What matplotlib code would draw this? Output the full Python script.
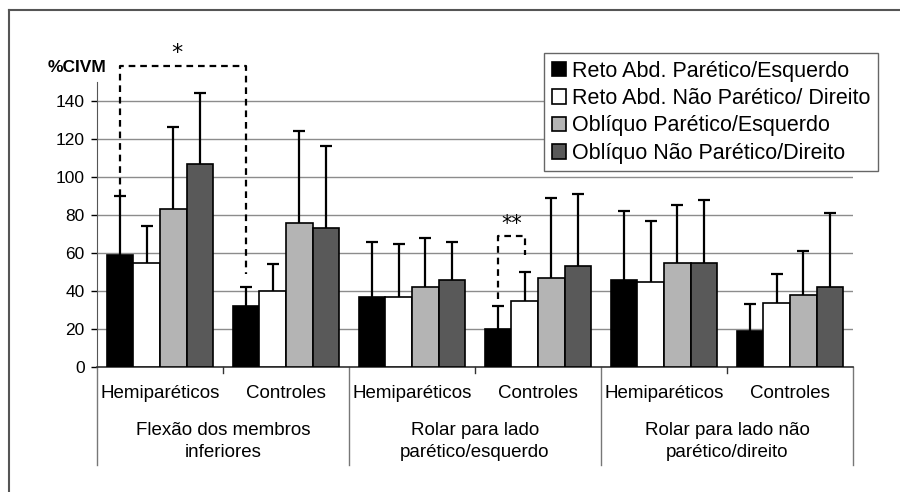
import numpy as np
import matplotlib

matplotlib.use("Agg")
import matplotlib.pyplot as plt
from matplotlib.lines import Line2D

plt.rcParams["font.family"] = ["Liberation Sans", "DejaVu Sans"]

# categorias (6 barras-grupo no eixo x)
subgroups = ["Hemiparéticos", "Controles"] * 3
tasks = ["Flexão dos membros\ninferiores",
         "Rolar para lado\nparético/esquerdo",
         "Rolar para lado não\nparético/direito"]

series_names = ["Reto Abd. Parético/Esquerdo",
                "Reto Abd. Não Parético/ Direito",
                "Oblíquo Parético/Esquerdo",
                "Oblíquo Não Parético/Direito"]
series_colors = ["#000000", "#ffffff", "#b4b4b4", "#595959"]

# médias (%CIVM) e desvio padrão (somente barra superior)
reto_par = [59, 32, 37, 20, 46, 19]
reto_par_sd = [31, 10, 29, 12, 36, 14]
reto_nao = [55, 40, 37, 35, 45, 34]
reto_nao_sd = [19, 14, 28, 15, 32, 15]
obl_par = [83, 76, 42, 47, 55, 38]
obl_par_sd = [43, 48, 26, 42, 30, 23]
obl_nao = [107, 73, 46, 53, 55, 42]
obl_nao_sd = [37, 43, 20, 38, 33, 39]

means = [reto_par, reto_nao, obl_par, obl_nao]
sds = [reto_par_sd, reto_nao_sd, obl_par_sd, obl_nao_sd]

fig = plt.figure(figsize=(9, 4.92), dpi=100)
ax = fig.add_axes([97 / 900, 1 - 367.3 / 492, 756 / 900, 285.6 / 492])

x = np.arange(len(subgroups))
w = 0.212
offsets = (np.arange(4) - 1.5) * w

for k in range(4):
    xs = x + offsets[k]
    ax.bar(xs, means[k], width=w, color=series_colors[k], edgecolor="black",
           linewidth=1.2, label=series_names[k], zorder=3)
    _, caps, _ = ax.errorbar(xs, means[k], yerr=[np.zeros(6), sds[k]], fmt="none",
                             ecolor="black", elinewidth=1.6, capsize=4.5,
                             capthick=1.6, zorder=4)
    caps[0].set_visible(False)

ax.set_xlim(-0.5, 5.5)
ax.set_ylim(0, 150)
ax.set_yticks(np.arange(0, 141, 20))
ax.tick_params(axis="y", labelsize=12.5, length=4, width=1, pad=5)
ax.yaxis.grid(True, color="#8c8c8c", linewidth=1, zorder=0)
ax.set_axisbelow(True)
ax.set_xticks([])
for s in ["top", "right"]:
    ax.spines[s].set_visible(False)
ax.spines["left"].set_color("#555555")
ax.spines["bottom"].set_color("#333333")
ax.spines["bottom"].set_linewidth(1.2)

ax.text(-0.027, 1.048, "%CIVM", transform=ax.transAxes, fontsize=12.5,
        fontweight="bold", ha="center", va="center")

# rótulos do eixo x (dois níveis)
tr = ax.get_xaxis_transform()
for i, lab in enumerate(subgroups):
    ax.text(x[i], -0.09, lab, transform=tr, ha="center", va="center", fontsize=13.5)
for j, lab in enumerate(tasks):
    ax.text(2 * j + 0.5, -0.26, lab, transform=tr, ha="center", va="center",
            fontsize=13.5, linespacing=1.38)
for b in [-0.5, 1.5, 3.5, 5.5]:
    ax.plot([b, b], [0, -0.3425], transform=tr, color="#777777", lw=1, clip_on=False)
for b in [0.5, 2.5, 4.5]:
    ax.plot([b, b], [0, -0.02], transform=tr, color="#333333", lw=1, clip_on=False)

# significância
dash = dict(color="black", lw=1.6, ls=(0, (3, 2.2)), clip_on=False, zorder=5)
xa, xb = x[0] + offsets[0], x[1] + offsets[0]
ax.plot([xa, xa, xb, xb], [reto_par[0] + reto_par_sd[0], 158, 158, 49], **dash)
ax.text((xa + xb) / 2 - 0.05, 165, "*", ha="center", va="center", fontsize=16,
        family="DejaVu Sans")
xa, xb = x[3] + offsets[0], x[3] + offsets[1]
ax.plot([xa, xa, xb, xb], [36, 69, 69, 59], **dash)
ax.text((xa + xb) / 2, 75.5, "**", ha="center", va="center", fontsize=15,
        family="DejaVu Sans")

ax.legend(loc="upper right", bbox_to_anchor=(878 / 900, 1 - 53 / 492),
          bbox_transform=fig.transFigure, fontsize=15.5, frameon=True, fancybox=False,
          edgecolor="#666666", framealpha=1, borderaxespad=0, handlelength=0.65,
          handleheight=0.65, handletextpad=0.3, labelspacing=0.3, borderpad=0.35)

# moldura externa
fig.add_artist(Line2D([9 / 900, 9 / 900], [0, 1 - 10 / 492], color="#555555", lw=1.5))
fig.add_artist(Line2D([9 / 900, 1], [1 - 10 / 492, 1 - 10 / 492], color="#555555", lw=1.5))

fig.savefig("out.png", dpi=100)
